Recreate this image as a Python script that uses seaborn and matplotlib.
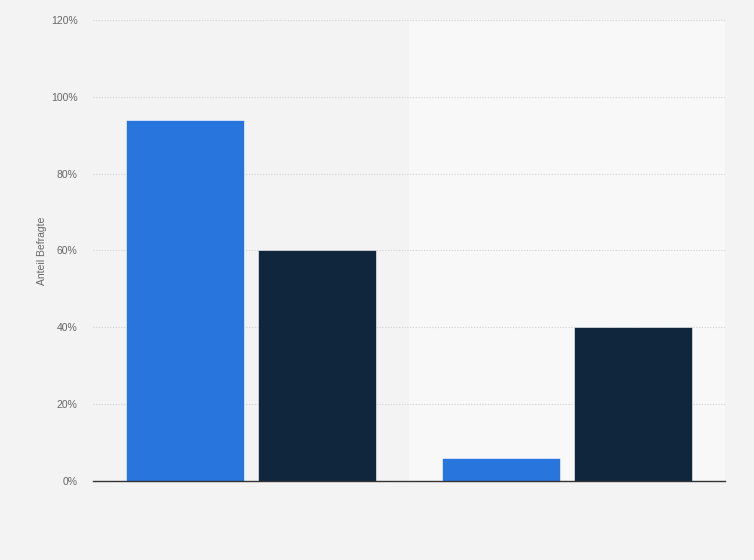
import pandas as pd
import seaborn as sns
import matplotlib.pyplot as plt
from matplotlib.ticker import PercentFormatter

# Data (share of respondents, %)
categories = ["Gruppe A", "Gruppe B"]
series = ["Serie 1", "Serie 2"]
values_series1 = [94, 6]
values_series2 = [60, 40]

y_ticks = [0, 20, 40, 60, 80, 100, 120]

df = pd.DataFrame(
    {
        "category": categories * 2,
        "series": [series[0]] * 2 + [series[1]] * 2,
        "value": values_series1 + values_series2,
    }
)

sns.set_style("white")
plt.rcParams["font.family"] = ["Liberation Sans", "DejaVu Sans"]

fig = plt.figure(figsize=(7.54, 5.6), dpi=100, facecolor="#f3f3f3")
ax = fig.add_axes([0.1233, 0.1411, 0.8382, 0.8232])
ax.set_facecolor("#f3f3f3")

# lighter band behind the second category
ax.axvspan(0.5, 1.5, color="#f8f8f8", zorder=0, lw=0)

sns.barplot(
    data=df,
    x="category",
    y="value",
    hue="series",
    palette=["#2876dd", "#10263c"],
    saturation=1,
    width=0.835,
    gap=0.106,
    edgecolor="#ffffff",
    linewidth=0.4,
    legend=False,
    ax=ax,
    zorder=3,
)

ax.set_xlim(-0.5, 1.5)
ax.set_ylim(0, 120)
ax.set_yticks(y_ticks)
ax.yaxis.set_major_formatter(PercentFormatter(decimals=0))
ax.grid(axis="y", color="#d0d0d0", linestyle=(0, (1, 1.5)), linewidth=0.8, zorder=1)
ax.set_axisbelow(True)

ax.set_xticks([])
ax.set_xlabel("")
ax.set_ylabel("Anteil Befragte", fontsize=7.5, color="#666666", labelpad=3)
ax.tick_params(axis="y", length=0, labelsize=7.5, labelcolor="#666666", pad=11)

for side in ["top", "right", "left"]:
    ax.spines[side].set_visible(False)
ax.spines["bottom"].set_color("#333333")
ax.spines["bottom"].set_linewidth(1.0)
ax.spines["bottom"].set_zorder(4)

fig.savefig("out.png", dpi=100, facecolor=fig.get_facecolor())
